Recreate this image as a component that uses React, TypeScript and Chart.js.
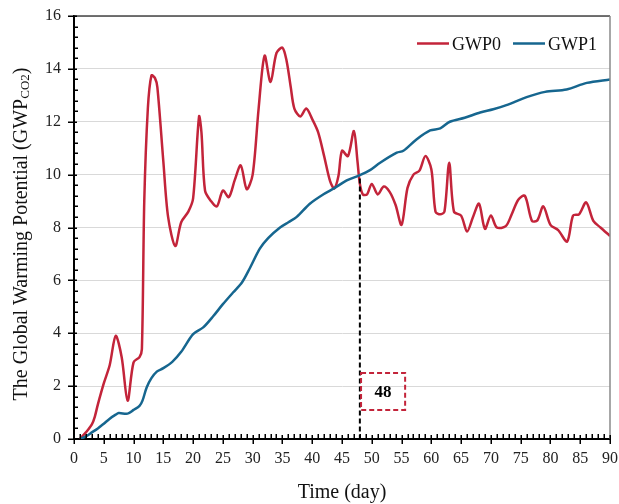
import React, { useEffect, useRef } from "react";
import { Chart, registerables } from "chart.js";

Chart.register(...registerables);

// ---- data ----
const gwp0Days = [1, 2, 3, 3.5, 4, 5, 6, 7, 8, 9, 10, 11, 11.4, 11.8, 12.4, 13, 13.6, 14, 15, 15.8, 17, 18, 19.2, 20, 21, 21.4, 22, 23, 24, 25, 26, 27, 28, 29, 30, 31, 32, 33, 34, 35, 35.7, 36.4, 37, 38, 39, 40, 41, 42, 43, 43.7, 44.4, 45, 46, 47, 47.6, 48, 48.5, 49.2, 50, 51, 52, 53, 54, 55, 56, 57, 58, 59, 60, 60.7, 61.5, 62.2, 63, 63.8, 65, 66, 67, 68, 69, 70, 71, 72.5, 73.5, 74.6, 75.7, 76.9, 77.8, 78.8, 80, 81.3, 82.8, 83.8, 84.8, 86, 87.2, 88.4, 90];
const gwp0Values = [0, 0.25, 0.55, 0.85, 1.3, 2.1, 2.8, 3.9, 3.1, 1.45, 2.9, 3.1, 3.4, 9.0, 12.5, 13.75, 13.65, 13.3, 10.5, 8.4, 7.3, 8.2, 8.6, 9.1, 12.2, 11.6, 9.4, 9.0, 8.8, 9.4, 9.15, 9.8, 10.35, 9.45, 10.0, 12.5, 14.5, 13.5, 14.6, 14.8, 14.3, 13.3, 12.5, 12.2, 12.5, 12.1, 11.6, 10.7, 9.75, 9.48, 9.95, 10.9, 10.7, 11.65, 10.5, 9.65, 9.25, 9.25, 9.65, 9.25, 9.55, 9.35, 8.85, 8.1, 9.5, 10.0, 10.15, 10.7, 10.2, 8.6, 8.5, 8.6, 10.45, 8.6, 8.45, 7.85, 8.4, 8.9, 7.95, 8.45, 8.0, 8.05, 8.5, 9.05, 9.2, 8.25, 8.27, 8.8, 8.1, 7.9, 7.47, 8.45, 8.5, 8.95, 8.25, 8.0, 7.68];

const gwp1Days = [1, 2, 3, 4, 5, 6, 7, 7.5, 9, 10, 11, 11.5, 12.2, 13, 13.9, 15, 16.5, 18, 20, 21.7, 23.4, 25, 26.7, 28.2, 29.5, 31.2, 32.6, 34.6, 36, 37.4, 39.6, 41.9, 43.8, 45.8, 48, 49.7, 51.4, 54.2, 55.3, 57.5, 59.8, 61.5, 63.1, 65.6, 68.2, 70.4, 72.6, 76, 79.1, 82.7, 86.1, 90];
const gwp1Values = [0, 0.1, 0.25, 0.4, 0.58, 0.77, 0.92, 0.98, 0.96, 1.1, 1.25, 1.45, 1.95, 2.3, 2.55, 2.68, 2.92, 3.3, 3.97, 4.22, 4.65, 5.1, 5.54, 5.92, 6.45, 7.2, 7.6, 8.0, 8.2, 8.4, 8.9, 9.26, 9.5, 9.78, 9.98, 10.17, 10.45, 10.83, 10.9, 11.33, 11.67, 11.75, 12.0, 12.15, 12.35, 12.47, 12.63, 12.93, 13.13, 13.22, 13.47, 13.6];

const seriesNames = ["GWP0", "GWP1"];
const markerDay = 48;
const markerTop = 9.85;
const markerLabel = "48";
const boxDays = [48.2, 55.6];
const boxValues = [1.1, 2.5];

const FONT = "'Liberation Serif', 'Times New Roman', serif";
const RED = "#C3243A";
const BLUE = "#16668F";

const decor = {
  id: "decor",
  afterDatasetsDraw(chart: any) {
    const { ctx, chartArea: a, scales } = chart;
    const x = scales.x;
    const y = scales.y;
    ctx.save();
    // plot border top/right
    ctx.lineWidth = 1.5;
    ctx.strokeStyle = "#444";
    ctx.beginPath();
    ctx.moveTo(a.left, a.top);
    ctx.lineTo(a.right, a.top);
    ctx.stroke();
    ctx.strokeStyle = "#8a8a8a";
    ctx.beginPath();
    ctx.moveTo(a.right, a.top);
    ctx.lineTo(a.right, a.bottom);
    ctx.stroke();

    // dashed marker line
    ctx.setLineDash([5, 3]);
    ctx.strokeStyle = "#000";
    ctx.lineWidth = 2;
    const mx = x.getPixelForValue(markerDay);
    ctx.beginPath();
    ctx.moveTo(mx, y.getPixelForValue(markerTop));
    ctx.lineTo(mx, a.bottom);
    ctx.stroke();

    // dashed box
    ctx.strokeStyle = RED;
    const bx0 = x.getPixelForValue(boxDays[0]);
    const bx1 = x.getPixelForValue(boxDays[1]);
    const by0 = y.getPixelForValue(boxValues[1]);
    const by1 = y.getPixelForValue(boxValues[0]);
    ctx.strokeRect(bx0, by0, bx1 - bx0, by1 - by0);
    ctx.setLineDash([]);
    ctx.fillStyle = "#000";
    ctx.font = `bold 17px ${FONT}`;
    ctx.textAlign = "center";
    ctx.textBaseline = "middle";
    ctx.fillText(markerLabel, (bx0 + bx1) / 2, (by0 + by1) / 2 + 1);

    // ticks
    ctx.strokeStyle = "#000";
    ctx.lineWidth = 1.5;
    ctx.beginPath();
    for (let d = 0; d <= 90; d += 1) {
      const px = Math.round(x.getPixelForValue(d)) + 0.25;
      if (d % 5 === 0) {
        ctx.moveTo(px, a.bottom - 4);
        ctx.lineTo(px, a.bottom + 5);
      } else {
        ctx.moveTo(px, a.bottom - 5);
        ctx.lineTo(px, a.bottom);
      }
    }
    for (let i = 0; i <= 40; i++) {
      const py = Math.round(y.getPixelForValue(i * 0.4)) + 0.25;
      if (i % 5 === 0) {
        ctx.moveTo(a.left - 6, py);
        ctx.lineTo(a.left + 3, py);
      } else {
        ctx.moveTo(a.left, py);
        ctx.lineTo(a.left + 4, py);
      }
    }
    ctx.stroke();

    // legend
    ctx.font = `18px ${FONT}`;
    ctx.textAlign = "left";
    ctx.textBaseline = "alphabetic";
    const colors = [RED, BLUE];
    const starts = [417, 513];
    seriesNames.forEach((name, i) => {
      ctx.strokeStyle = colors[i];
      ctx.lineWidth = 2.5;
      ctx.beginPath();
      ctx.moveTo(starts[i], 43.5);
      ctx.lineTo(starts[i] + 32, 43.5);
      ctx.stroke();
      ctx.fillStyle = "#111";
      ctx.fillText(name, starts[i] + 35, 50);
    });

    // y title with subscript
    const main = "The Global Warming Potential (GWP";
    const sub = "CO2";
    const end = ")";
    ctx.font = `20px ${FONT}`;
    const w1 = ctx.measureText(main).width;
    const w3 = ctx.measureText(end).width;
    ctx.font = `13px ${FONT}`;
    const w2 = ctx.measureText(sub).width;
    const total = w1 + w2 + w3;
    ctx.translate(27, 234);
    ctx.rotate(-Math.PI / 2);
    ctx.fillStyle = "#111";
    let cx = -total / 2;
    ctx.font = `20px ${FONT}`;
    ctx.fillText(main, cx, 0);
    cx += w1;
    ctx.font = `13px ${FONT}`;
    ctx.fillText(sub, cx, 1.5);
    cx += w2;
    ctx.font = `20px ${FONT}`;
    ctx.fillText(end, cx, 0);
    ctx.setTransform(1, 0, 0, 1, 0, 0);

    // x title
    ctx.font = `20px ${FONT}`;
    ctx.textAlign = "center";
    ctx.fillText("Time (day)", (a.left + a.right) / 2, 498);
    ctx.restore();
  },
};

const zeroPad = (s: any) => {
  s.paddingLeft = 0;
  s.paddingRight = 0;
  s.paddingTop = 0;
  s.paddingBottom = 0;
};

export default function App() {
  const ref = useRef<HTMLCanvasElement | null>(null);
  useEffect(() => {
    const canvas = ref.current;
    if (!canvas) return;
    const chart = new Chart(canvas, {
      type: "line",
      data: {
        datasets: [
          {
            label: seriesNames[0],
            data: gwp0Days.map((d, i) => ({ x: d, y: gwp0Values[i] })),
            borderColor: RED,
            backgroundColor: RED,
            borderWidth: 2.5,
            pointRadius: 0,
            tension: 0.3,
            order: 2,
          },
          {
            label: seriesNames[1],
            data: gwp1Days.map((d, i) => ({ x: d, y: gwp1Values[i] })),
            borderColor: BLUE,
            backgroundColor: BLUE,
            borderWidth: 2.5,
            pointRadius: 0,
            tension: 0.3,
            order: 1,
          },
        ],
      },
      options: {
        responsive: false,
        animation: false,
        events: [],
        layout: { padding: { top: 16, right: 9, left: 0, bottom: 0 } },
        plugins: { legend: { display: false }, tooltip: { enabled: false } },
        scales: {
          x: {
            type: "linear",
            min: 0,
            max: 90,
            afterFit: (s: any) => {
              s.height = 65;
              zeroPad(s);
            },
            ticks: {
              stepSize: 5,
              padding: 10,
              color: "#222",
              font: { family: FONT, size: 16 },
              maxRotation: 0,
            },
            grid: { display: false, drawTicks: false },
            border: { display: true, color: "#000", width: 2 },
          },
          y: {
            type: "linear",
            min: 0,
            max: 16,
            afterFit: (s: any) => {
              s.width = 74;
              zeroPad(s);
            },
            ticks: {
              stepSize: 2,
              padding: 13,
              color: "#222",
              font: { family: FONT, size: 16 },
            },
            grid: { color: "#d9d9d9", lineWidth: 1, drawTicks: false },
            border: { display: true, color: "#000", width: 2 },
          },
        },
      },
      plugins: [decor],
    });
    return () => chart.destroy();
  }, []);
  return (
    <div style={{ position: "absolute", left: 0, top: 0, width: 619, height: 504, background: "#fff" }}>
      <canvas ref={ref} width={619} height={504} />
    </div>
  );
}
